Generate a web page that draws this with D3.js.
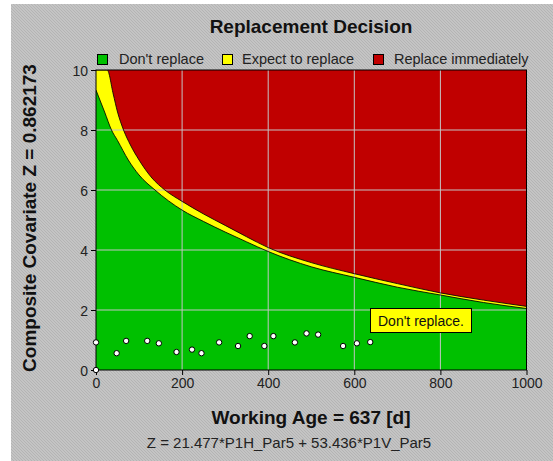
<!DOCTYPE html>
<html>
<head>
<meta charset="utf-8">
<script src="https://cdn.jsdelivr.net/npm/d3@7"></script>
<style>
    body { margin: 0; background: #fff; }
    text { font-family: "Liberation Sans", Arial, sans-serif; }
</style>
</head>
<body>
<svg id="chart" width="553" height="461"></svg>
<script>
// chart data
let ageTicks = [0, 200, 400, 600, 800, 1000];
let zTicks = [0, 2, 4, 6, 8, 10];

// green / yellow boundary
let lowerAge = [0, 20, 36, 50, 75, 100, 137, 200, 250, 300, 350, 400, 500, 600, 700, 800, 900, 1000];
let lowerZ = [9.33, 8.6, 8.0, 7.65, 7.0, 6.5, 6.0, 5.33, 4.95, 4.6, 4.27, 3.95, 3.44, 3.09, 2.76, 2.5, 2.25, 2.05];

// yellow / red boundary
let upperAge = [0, 26, 40, 50, 64, 80, 100, 130, 160, 200, 250, 300, 350, 400, 500, 600, 700, 800, 900, 1000];
let upperZ = [10, 10, 9.2, 8.6, 8.0, 7.5, 7.0, 6.4, 6.0, 5.62, 5.2, 4.82, 4.44, 4.08, 3.58, 3.21, 2.88, 2.57, 2.33, 2.12];

// inspection points
let obsAge = [0, 0, 48, 70, 119, 146, 187, 223, 245, 286, 330, 357, 391, 412, 462, 489, 516, 574, 606, 637];
let obsZ = [0.0, 0.92, 0.56, 0.97, 0.97, 0.89, 0.6, 0.68, 0.56, 0.92, 0.8, 1.13, 0.8, 1.13, 0.92, 1.22, 1.18, 0.8, 0.89, 0.93];

let legendItems = [
    { label: "Don't replace", color: "#00c000", x: 97, tx: 119 },
    { label: "Expect to replace", color: "#ffff00", x: 222, tx: 242 },
    { label: "Replace immediately", color: "#c00000", x: 373, tx: 394 }
];

let plot = { left: 96, right: 526.5, top: 70, bottom: 370 };

let svg = d3.select("#chart");

// hatched grey background
let defs = svg.append("defs");
let pat = defs.append("pattern")
    .attr("id", "hatch")
    .attr("width", 3)
    .attr("height", 3)
    .attr("patternUnits", "userSpaceOnUse");
pat.append("rect").attr("width", 3).attr("height", 3).attr("fill", "#c4c4c4");
pat.append("path").attr("d", "M0,0L3,3").attr("stroke", "#b4b4b4").attr("stroke-width", 1);

defs.append("clipPath")
    .attr("id", "plotClip")
    .append("rect")
    .attr("x", plot.left)
    .attr("y", plot.top)
    .attr("width", plot.right - plot.left)
    .attr("height", plot.bottom - plot.top);

svg.append("rect")
    .attr("x", 11)
    .attr("y", 4)
    .attr("width", 553 - 11)
    .attr("height", 461 - 4)
    .attr("fill", "url(#hatch)");

let x = d3.scaleLinear().domain([0, 1000]).range([plot.left, plot.right]);
let y = d3.scaleLinear().domain([0, 10]).range([plot.bottom, plot.top]);

let lowerPts = lowerAge.map((a, i) => [a, lowerZ[i]]);
let upperPts = upperAge.map((a, i) => [a, upperZ[i]]);

let area = d3.area()
    .x(d => x(d[0]))
    .y0(y(0))
    .y1(d => y(d[1]))
    .curve(d3.curveMonotoneX);
let line = d3.line()
    .x(d => x(d[0]))
    .y(d => y(d[1]))
    .curve(d3.curveMonotoneX);

let regions = svg.append("g").attr("clip-path", "url(#plotClip)");

regions.append("rect")
    .attr("x", plot.left)
    .attr("y", plot.top)
    .attr("width", plot.right - plot.left)
    .attr("height", plot.bottom - plot.top)
    .attr("fill", "#c00000");
regions.append("path").datum(upperPts).attr("d", area).attr("fill", "#ffff00");
regions.append("path").datum(lowerPts).attr("d", area).attr("fill", "#00c000");

// grid lines
regions.selectAll("line.vgrid")
    .data(ageTicks.slice(1, -1))
    .enter().append("line")
    .attr("class", "vgrid")
    .attr("x1", d => x(d)).attr("x2", d => x(d))
    .attr("y1", plot.top).attr("y2", plot.bottom)
    .attr("stroke", "#c4c4c4")
    .attr("stroke-width", 1);
regions.selectAll("line.hgrid")
    .data(zTicks.slice(1, -1))
    .enter().append("line")
    .attr("class", "hgrid")
    .attr("x1", plot.left).attr("x2", plot.right)
    .attr("y1", d => y(d)).attr("y2", d => y(d))
    .attr("stroke", "#c4c4c4")
    .attr("stroke-width", 1);

// dark edges of the boundaries
regions.append("path").datum(upperPts).attr("d", line)
    .attr("fill", "none").attr("stroke", "#000").attr("stroke-width", 1).attr("opacity", 0.85);
regions.append("path").datum(lowerPts).attr("d", line)
    .attr("fill", "none").attr("stroke", "#000").attr("stroke-width", 1).attr("opacity", 0.85);

// frame
svg.append("rect")
    .attr("x", plot.left)
    .attr("y", plot.top)
    .attr("width", plot.right - plot.left)
    .attr("height", plot.bottom - plot.top)
    .attr("fill", "none")
    .attr("stroke", "#000")
    .attr("stroke-width", 1);

// axes
let xAxis = svg.append("g")
    .attr("transform", `translate(0,${plot.bottom})`)
    .call(d3.axisBottom(x).tickValues(ageTicks).tickFormat(d3.format("d")).tickSize(5).tickPadding(3));
let yAxis = svg.append("g")
    .attr("transform", `translate(${plot.left},0)`)
    .call(d3.axisLeft(y).tickValues(zTicks).tickFormat(d3.format("d")).tickSize(5).tickPadding(3));

[xAxis, yAxis].forEach(ax => {
    ax.select(".domain").remove();
    ax.selectAll("line").attr("stroke", "#000");
    ax.selectAll("text")
        .attr("fill", "#222")
        .style("font-size", "14px")
        .style("font-family", "'Liberation Sans', Arial, sans-serif");
});
yAxis.selectAll("text").attr("dy", "0.36em");

// observation points
svg.selectAll("circle.obs")
    .data(obsAge.map((a, i) => [a, obsZ[i]]))
    .enter().append("circle")
    .attr("class", "obs")
    .attr("cx", d => x(d[0]))
    .attr("cy", d => y(d[1]))
    .attr("r", 2.7)
    .attr("fill", "#fff")
    .attr("stroke", "#000")
    .attr("stroke-width", 1);

// decision label
let note = svg.append("g");
note.append("rect")
    .attr("x", 370.5)
    .attr("y", 308.5)
    .attr("width", 101)
    .attr("height", 24)
    .attr("fill", "#ffff00")
    .attr("stroke", "#000")
    .attr("stroke-width", 1);
note.append("text")
    .attr("x", 378)
    .attr("y", 326)
    .attr("fill", "#111")
    .style("font-size", "14px")
    .text("Don't replace.");

// legend
let leg = svg.selectAll("g.legend")
    .data(legendItems)
    .enter().append("g")
    .attr("class", "legend");
leg.append("rect")
    .attr("x", d => d.x + 0.5)
    .attr("y", 54.5)
    .attr("width", 10)
    .attr("height", 10)
    .attr("fill", d => d.color)
    .attr("stroke", "#000");
leg.append("text")
    .attr("x", d => d.tx)
    .attr("y", 64)
    .attr("fill", "#222")
    .style("font-size", "14.5px")
    .text(d => d.label);

// titles
svg.append("text")
    .attr("x", 311)
    .attr("y", 33)
    .attr("text-anchor", "middle")
    .attr("fill", "#111")
    .style("font-size", "19px")
    .style("font-weight", "bold")
    .text("Replacement Decision");

svg.append("text")
    .attr("transform", "translate(36,218) rotate(-90)")
    .attr("text-anchor", "middle")
    .attr("fill", "#111")
    .style("font-size", "19px")
    .style("font-weight", "bold")
    .text("Composite Covariate Z = 0.862173");

svg.append("text")
    .attr("x", 311)
    .attr("y", 424)
    .attr("text-anchor", "middle")
    .attr("fill", "#111")
    .style("font-size", "19px")
    .style("font-weight", "bold")
    .text("Working Age = 637 [d]");

svg.append("text")
    .attr("x", 289)
    .attr("y", 448)
    .attr("text-anchor", "middle")
    .attr("fill", "#222")
    .style("font-size", "15px")
    .text("Z = 21.477*P1H_Par5 + 53.436*P1V_Par5");
</script>
</body>
</html>
